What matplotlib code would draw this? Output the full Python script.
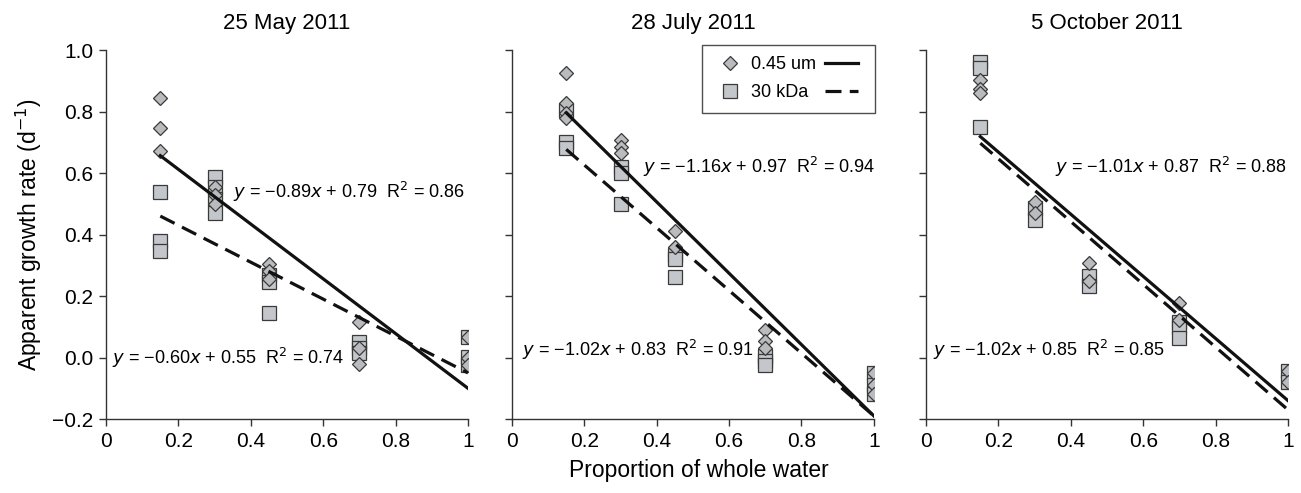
import matplotlib
matplotlib.use("Agg")
import matplotlib.pyplot as plt
from matplotlib.lines import Line2D

plt.rcParams["font.family"] = ["Liberation Sans", "DejaVu Sans"]

titles = ["25 May 2011", "28 July 2011", "5 October 2011"]

# proportion of whole water for each replicate
x_um = [
    [0.15, 0.15, 0.15, 0.3, 0.3, 0.3, 0.45, 0.45, 0.45, 0.7, 0.7, 0.7, 1.0, 1.0, 1.0],
    [0.15, 0.15, 0.15, 0.15, 0.3, 0.3, 0.3, 0.45, 0.45, 0.7, 0.7, 0.7, 1.0, 1.0, 1.0],
    [0.15, 0.15, 0.15, 0.3, 0.3, 0.45, 0.45, 0.7, 0.7, 1.0, 1.0],
]
y_um = [
    [0.843, 0.745, 0.672, 0.555, 0.53, 0.50, 0.305, 0.28, 0.255, 0.114, 0.03, -0.022, 0.068, 0.0, -0.025],
    [0.924, 0.827, 0.794, 0.778, 0.707, 0.685, 0.666, 0.41, 0.36, 0.088, 0.055, 0.03, -0.05, -0.089, -0.12],
    [0.902, 0.872, 0.861, 0.507, 0.47, 0.307, 0.25, 0.179, 0.123, -0.045, -0.078],
]
x_kda = [
    [0.15, 0.15, 0.15, 0.3, 0.3, 0.3, 0.3, 0.45, 0.45, 0.45, 0.7, 0.7, 0.7, 1.0, 1.0, 1.0],
    [0.15, 0.15, 0.15, 0.3, 0.3, 0.3, 0.45, 0.45, 0.45, 0.7, 0.7, 0.7, 1.0, 1.0, 1.0],
    [0.15, 0.15, 0.15, 0.3, 0.3, 0.45, 0.45, 0.7, 0.7, 0.7, 1.0, 1.0],
]
y_kda = [
    [0.537, 0.38, 0.345, 0.586, 0.554, 0.515, 0.469, 0.269, 0.247, 0.144, 0.049, 0.03, 0.014, 0.068, 0.003, -0.024],
    [0.805, 0.702, 0.68, 0.62, 0.60, 0.50, 0.335, 0.32, 0.263, 0.005, -0.01, -0.024, -0.05, -0.089, -0.12],
    [0.962, 0.94, 0.749, 0.485, 0.448, 0.266, 0.233, 0.115, 0.10, 0.063, -0.045, -0.078],
]

# regression fits: slope, intercept, R^2
fit_um = [(-0.89, 0.79, 0.86), (-1.16, 0.97, 0.94), (-1.01, 0.87, 0.88)]
fit_kda = [(-0.60, 0.55, 0.74), (-1.02, 0.83, 0.91), (-1.02, 0.85, 0.85)]
fit_x = [0.15, 1.0]

# label anchor (x, y) in data units
lab_um = [(0.35, 0.54), (0.362, 0.62), (0.357, 0.62)]
lab_kda = [(0.016, 0.0), (0.027, 0.025), (0.02, 0.025)]

fig = plt.figure(figsize=(13.01, 4.93), dpi=100)
lefts = [0.0815, 0.3935, 0.7118]
axes = [fig.add_axes([l, 0.150, 0.2782, 0.7485]) for l in lefts]

diamond_kw = dict(marker="D", ms=7.2, mfc="#b9bbbe", mec="#3a3a3a", mew=0.9, ls="none")
square_kw = dict(marker="s", ms=10.5, mfc="#c3c6ca", mec="#3a3a3a", mew=0.9, ls="none")
dash = (0, (5, 2.6))


def fmt_eq(m, b, r2):
    return (r"$y$ = " + f"\u2212{abs(m):.2f}" + r"$x$" + f" + {b:.2f}  R$^2$ = {r2:.2f}")


for i, ax in enumerate(axes):
    ax.plot(x_kda[i], y_kda[i], zorder=3, **square_kw)
    ax.plot(x_um[i], y_um[i], zorder=4, **diamond_kw)
    m, b, r2 = fit_um[i]
    ax.plot(fit_x, [m * v + b for v in fit_x], color="#111111", lw=2.3, zorder=5)
    m2, b2, r22 = fit_kda[i]
    ax.plot(fit_x, [m2 * v + b2 for v in fit_x], color="#111111", lw=2.3,
            ls=dash, zorder=5)
    ax.text(lab_um[i][0], lab_um[i][1], fmt_eq(m, b, r2), fontsize=13, va="center", ha="left")
    ax.text(lab_kda[i][0], lab_kda[i][1], fmt_eq(m2, b2, r22), fontsize=13, va="center", ha="left")

    ax.set_xlim(0, 1)
    ax.set_ylim(-0.2, 1.0)
    ax.set_xticks([0, 0.2, 0.4, 0.6, 0.8, 1.0])
    ax.set_xticklabels(["0", "0.2", "0.4", "0.6", "0.8", "1"])
    ax.set_yticks([-0.2, 0, 0.2, 0.4, 0.6, 0.8, 1.0])
    ax.spines["top"].set_visible(False)
    ax.spines["right"].set_visible(False)
    for s in ("left", "bottom"):
        ax.spines[s].set_color("#333333")
        ax.spines[s].set_linewidth(1.0)
    ax.tick_params(direction="out", length=5, width=1.0, color="#333333", labelsize=15, pad=4)
    ax.set_title(titles[i], fontsize=16, pad=15)
    if i == 0:
        ax.set_yticklabels(["\u22120.2", "0.0", "0.2", "0.4", "0.6", "0.8", "1.0"])
        ax.set_ylabel("Apparent growth rate (d$^{-1}$)", fontsize=16.5, labelpad=6)
    else:
        ax.set_yticklabels([])

handles = [
    Line2D([], [], **diamond_kw),
    Line2D([], [], **square_kw),
    Line2D([], [], color="#111111", lw=2.3),
    Line2D([], [], color="#111111", lw=2.3, ls=dash),
]
leg = axes[1].legend(handles, ["0.45 um", "30 kDa", "", ""], ncol=2, fontsize=13,
                     loc="upper right", bbox_to_anchor=(1.003, 1.015), borderaxespad=0,
                     frameon=True, fancybox=False, edgecolor="#222222", handlelength=1.8,
                     handletextpad=0.3, columnspacing=0.5, borderpad=0.65,
                     labelspacing=0.6)
leg.get_frame().set_linewidth(1.0)

fig.text(0.537, 0.045, "Proportion of whole water", fontsize=16.5, ha="center", va="center")

fig.savefig("out.png", dpi=100)
